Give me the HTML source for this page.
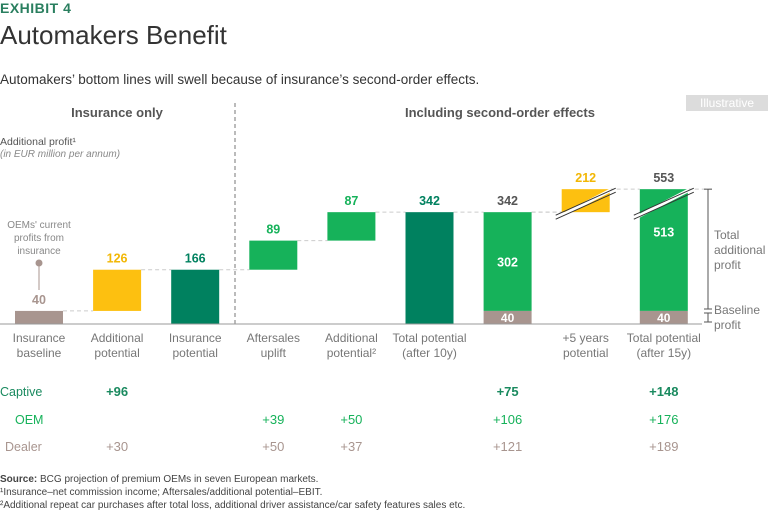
<!DOCTYPE html>
<html><head><meta charset="utf-8"><style>
body{margin:0;width:768px;height:514px;background:#fff;font-family:"Liberation Sans",sans-serif;overflow:hidden;position:relative}
.t{position:absolute;white-space:nowrap}
</style></head><body>
<div class="t" style="left:0;top:0;font-size:14px;font-weight:bold;color:#2a7f5f;letter-spacing:0.5px">EXHIBIT 4</div>
<div class="t" style="left:0;top:20px;font-size:26px;color:#333">Automakers Benefit</div>
<div class="t" style="left:0;top:72px;font-size:13.5px;color:#333">Automakers’ bottom lines will swell because of insurance’s second-order effects.</div>
<div class="t" style="left:686px;top:95px;width:82px;height:16px;background:#dcdcdc;color:#fff;font-size:12px;text-align:center;line-height:16px">Illustrative</div>
<svg id="chart" width="768" height="514" style="position:absolute;left:0;top:0" font-family="Liberation Sans, sans-serif"></svg>
<script>
const categories=[["Insurance","baseline"],["Additional","potential"],["Insurance","potential"],["Aftersales","uplift"],["Additional","potential²"],["Total potential","(after 10y)"],["",""],["+5 years","potential"],["Total potential","(after 15y)"]];
const barStart=[0,40,0,166,255,0,40,342,40];
const barEnd=[40,166,166,255,342,342,342,553,553];
const baseSeg=[0,0,0,0,0,0,40,0,40];
const topLabels=["40","126","166","89","87","342","342","212","553"];
const innerLabels=["","","","","","","302","","513"];
const barColors=["#a8958f","#fdc010","#00815f","#16b25a","#16b25a","#00815f","#16b25a","#fdc010","#16b25a"];
const labelColors=["#a8958f","#f2b705","#00815f","#16b25a","#16b25a","#00815f","#555","#f2b705","#555"];
const rowNames=["Captive","OEM","Dealer"];
const captive=[null,"+96",null,null,null,null,"+75",null,"+148"];
const oem=[null,null,null,"+39","+50",null,"+106",null,"+176"];
const dealer=[null,"+30",null,"+50","+37",null,"+121",null,"+189"];

const svg=document.getElementById('chart');const NS="http://www.w3.org/2000/svg";
function el(tag,attrs,parent){const e=document.createElementNS(NS,tag);for(const k in attrs)e.setAttribute(k,attrs[k]);(parent||svg).appendChild(e);return e;}
const Y0=324,K=0.327,BRK=342;
function y(v){return v<=BRK?Y0-v*K:(Y0-BRK*K)-(v-BRK)*(23/211);}
function x(i){return 15+i*78.1;}
const W=48;
let d=el('line',{x1:235,y1:103,x2:235,y2:324,stroke:'#777','stroke-dasharray':'4,3'});

let h=el('text',{x:117,y:117,'text-anchor':'middle','font-size':13,'font-weight':'bold',fill:'#555'});h.textContent="Insurance only";

h=el('text',{x:500,y:117,'text-anchor':'middle','font-size':13,'font-weight':'bold',fill:'#555'});h.textContent="Including second-order effects";

h=el('text',{x:0,y:145,'font-size':10.5,fill:'#555'});h.textContent="Additional profit¹";

h=el('text',{x:0,y:157,'font-size':10,fill:'#888','font-style':'italic'});h.textContent="(in EUR million per annum)";

["OEMs' current","profits from","insurance"].forEach((s,j)=>{const t=el('text',{x:39,y:228+j*13,'text-anchor':'middle','font-size':10,fill:'#888'});t.textContent=s;
});
el('circle',{cx:39,cy:263,r:3.5,fill:'#a8958f'});el('line',{x1:39,y1:263,x2:39,y2:290,stroke:'#a8958f'});
for(let i=0;i<categories.length-1;i++){
  const v=barEnd[i];if(i==5||i==7)continue;
  const c=el('line',{x1:x(i)+W,y1:y(v),x2:x(i+1),y2:y(v),stroke:'#ccc','stroke-dasharray':'4,3'});
  
}
[[5,342],[6,342],[7,553]].forEach(([i,v])=>{const c=el('line',{x1:x(i)+W,y1:y(v),x2:x(i+1),y2:y(v),stroke:'#ccc','stroke-dasharray':'4,3'});
  });
let c=el('line',{x1:x(8)+W,y1:y(553),x2:712,y2:y(553),stroke:'#ccc','stroke-dasharray':'4,3'});

categories.forEach((cat,i)=>{
  const x0=x(i),yt=y(barEnd[i]),yb=y(barStart[i]);
  const r=el('rect',{x:x0,y:yt,width:W,height:yb-yt,fill:barColors[i]});
  
  if(baseSeg[i]){const b=el('rect',{x:x0,y:y(baseSeg[i]),width:W,height:Y0-y(baseSeg[i]),fill:'#a8958f'});
    
    const bt=el('text',{x:x0+W/2,y:Y0-2,'text-anchor':'middle','font-size':12,'font-weight':'bold',fill:'#fff'});bt.textContent="40";
    }
  if(barEnd[i]>BRK){
    const ya=y(BRK)+2,yz=yt-1;
    el('polygon',{points:`${x0-1},${ya} ${x0-1},${ya+4} ${x0+W+1},${yz+4} ${x0+W+1},${yz}`,fill:'#fff'});
    if(barStart[i]>=BRK) el('polygon',{points:`${x0-1},${ya+3} ${x0-1},${yb+1} ${x0+W*0.2},${yb+1}`,fill:'#fff'});
    el('line',{x1:x0-6,y1:ya+1,x2:x0+W+6,y2:yz,stroke:'#333','stroke-width':1});
    el('line',{x1:x0-6,y1:ya+5,x2:x0+W+6,y2:yz+4,stroke:'#333','stroke-width':1});}
  const lt=el('text',{x:x0+W/2,y:yt-7,'text-anchor':'middle','font-size':12.5,'font-weight':'bold',fill:labelColors[i]});lt.textContent=topLabels[i];
  
  if(innerLabels[i]){const top=barEnd[i]>BRK?y(BRK):yt;const it=el('text',{x:x0+W/2,y:(top+y(baseSeg[i]))/2+(barEnd[i]>BRK?-25:5),'text-anchor':'middle','font-size':12.5,'font-weight':'bold',fill:'#fff'});it.textContent=innerLabels[i];
    }
  cat.forEach((s,j)=>{if(!s)return;const t=el('text',{x:x0+W/2,y:342+j*15,'text-anchor':'middle','font-size':12,fill:'#777'});t.textContent=s;
    });
});
let a=el('line',{x1:0,y1:Y0,x2:702,y2:Y0,stroke:'#999'});
el('line',{x1:708,y1:y(553),x2:708,y2:309,stroke:'#555'});
el('line',{x1:704,y1:y(553),x2:712,y2:y(553),stroke:'#555'});
el('line',{x1:704,y1:309,x2:712,y2:309,stroke:'#555'});
el('line',{x1:708,y1:313,x2:708,y2:322,stroke:'#555'});
el('line',{x1:704,y1:313,x2:712,y2:313,stroke:'#555'});
el('line',{x1:704,y1:322,x2:712,y2:322,stroke:'#555'});
["Total","additional","profit"].forEach((s,j)=>{const t=el('text',{x:714,y:239+j*15,'font-size':12,fill:'#777'});t.textContent=s;
  });
["Baseline","profit"].forEach((s,j)=>{const t=el('text',{x:714,y:314+j*15,'font-size':12,fill:'#777'});t.textContent=s;
  });
const rows=[captive,oem,dealer],rcol=['#1a8a5f','#16b25a','#a8958f'],rx=[0,15,5],ry=[396,424,451];
rows.forEach((row,r)=>{
  const n=el('text',{x:rx[r],y:ry[r],'font-size':12.5,fill:rcol[r]});n.textContent=rowNames[r];
  
  row.forEach((v,i)=>{if(!v)return;const t=el('text',{x:x(i)+W/2,y:ry[r],'text-anchor':'middle','font-size':13,'font-weight':r==0?'bold':'normal',fill:rcol[r]});t.textContent=v;
    });
});
</script>
<div class="t" style="left:0;top:474px;font-size:10px;color:#444"><b>Source:</b> BCG projection of premium OEMs in seven European markets.</div>
<div class="t" style="left:0;top:487px;font-size:10px;color:#444">¹Insurance–net commission income; Aftersales/additional potential–EBIT.</div>
<div class="t" style="left:0;top:500px;font-size:10px;color:#444">²Additional repeat car purchases after total loss, additional driver assistance/car safety features sales etc.</div>
</body></html>
